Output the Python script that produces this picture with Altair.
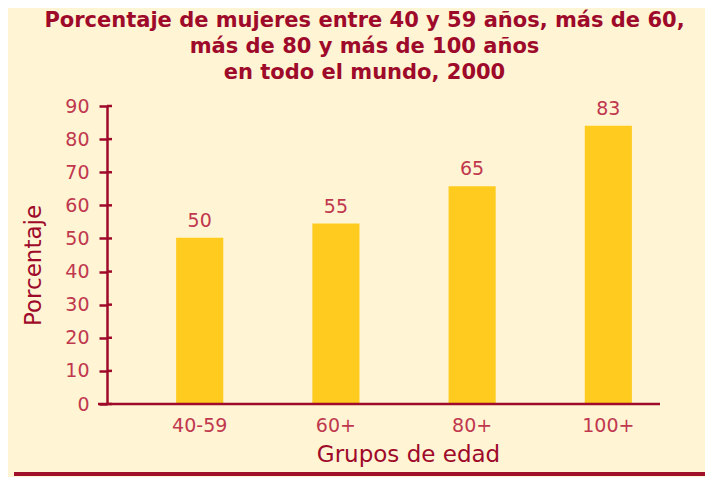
import altair as alt
import pandas as pd

groups = ["40-59", "60+", "80+", "100+"]
values = [50.2, 54.5, 65.8, 84.0]
labels = ["50", "55", "65", "83"]
y_ticks = [0, 10, 20, 30, 40, 50, 60, 70, 80, 90]
title_lines = [
    "Porcentaje de mujeres entre 40 y 59 años, más de 60,",
    "más de 80 y más de 100 años",
    "en todo el mundo, 2000",
]

df = pd.DataFrame({"grupo": groups, "valor": values, "etiqueta": labels})
ticks_df = pd.DataFrame({"t": y_ticks})

DARK = "#9E0A2A"
LABEL = "#C0384E"
FONT = "DejaVu Sans"

x_scale = alt.Scale(paddingInner=0.654, paddingOuter=0.357, align=0.711)
x_axis = alt.Axis(
    title="Grupos de edad",
    labelAngle=0,
    labelFontSize=19,
    labelColor=LABEL,
    labelFont=FONT,
    labelPadding=12,
    ticks=False,
    domain=False,
    titleFontSize=23,
    titleFont=FONT,
    titleFontWeight="normal",
    titleColor=DARK,
    titleX=301,
    titleY=50,
    titleBaseline="middle",
)
y_scale = alt.Scale(domain=[0, 90], nice=False)
y_axis = alt.Axis(
    title="Porcentaje",
    values=y_ticks,
    labelOverlap=False,
    labelFontSize=19,
    labelColor=LABEL,
    labelFont=FONT,
    labelPadding=10,
    tickSize=8,
    tickWidth=2.5,
    tickColor=DARK,
    domainColor=DARK,
    domainWidth=2.5,
    grid=False,
    titleFontSize=23,
    titleFont=FONT,
    titleFontWeight="normal",
    titleColor=DARK,
    titleX=-74,
    titleY=159,
    titleBaseline="middle",
    titleAlign="center",
)

bars = alt.Chart(df).mark_bar(color="#FFCB1F").encode(
    x=alt.X("grupo:N", sort=groups, scale=x_scale, axis=x_axis),
    y=alt.Y("valor:Q", scale=y_scale, axis=y_axis),
)

text = alt.Chart(df).mark_text(
    baseline="bottom", dy=-7, fontSize=19, font=FONT, color=LABEL
).encode(
    x=alt.X("grupo:N", sort=groups, scale=x_scale, axis=x_axis),
    y=alt.Y("valor:Q", scale=y_scale, axis=y_axis),
    text="etiqueta:N",
)

inner_ticks = alt.Chart(ticks_df).mark_rule(color=DARK, strokeWidth=2.5).encode(
    y=alt.Y("t:Q", scale=y_scale, axis=y_axis), x=alt.value(0), x2=alt.value(5)
)

x_line = alt.Chart(ticks_df.head(1)).mark_rule(color=DARK, strokeWidth=2.5).encode(
    y=alt.Y("t:Q", scale=y_scale, axis=y_axis), x=alt.value(-9), x2=alt.value(553)
)

bottom_line = alt.Chart(ticks_df.head(1)).mark_rule(color="#A0102A", strokeWidth=4).encode(
    y=alt.value(368), x=alt.value(-93), x2=alt.value(598)
)

chart = (
    alt.layer(bars, text, inner_ticks, x_line, bottom_line)
    .properties(
        width=553,
        height=298,
        padding={"left": 99, "top": 98, "right": 45, "bottom": 73},
        autosize=alt.AutoSizeParams(type="none"),
        title=alt.TitleParams(
            text=title_lines,
            anchor="middle",
            dx=-19,
            offset=14,
            fontSize=21,
            lineHeight=26,
            font=FONT,
            fontWeight="bold",
            color=DARK,
        ),
    )
    .configure(background="#FFF4D4")
    .configure_view(stroke=None)
)

chart.save("out.html", embed_options={"renderer": "svg", "actions": False})
